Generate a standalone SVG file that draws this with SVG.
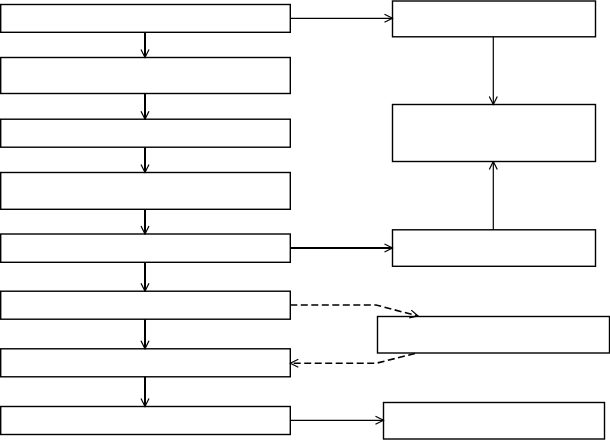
<svg xmlns="http://www.w3.org/2000/svg" width="610" height="440" viewBox="0 0 610 440">
<style>
.box{fill:#fff;stroke:#000;stroke-width:1.4}
.c{fill:none;stroke:#000;stroke-width:1.2}
.t{stroke-width:2}
.d{stroke-width:1.6;stroke-dasharray:7 3.5}
</style>
<defs>
<marker id="a" viewBox="0 0 10 10" refX="9" refY="5" markerWidth="10" markerHeight="10" markerUnits="userSpaceOnUse" orient="auto">
<path d="M1,1 L9,5 L1,9" fill="none" stroke="#000" stroke-width="1.2"/>
</marker>
</defs>
<rect width="610" height="440" fill="#fff"/>
<g id="n1"><rect class="box" x="0.7" y="4.5" width="289.6" height="27.8"/></g>
<g id="n2"><rect class="box" x="0.7" y="57.5" width="289.6" height="36"/></g>
<g id="n3"><rect class="box" x="0.7" y="119.2" width="289.6" height="28"/></g>
<g id="n4"><rect class="box" x="0.7" y="172.5" width="289.6" height="36.8"/></g>
<g id="n5"><rect class="box" x="0.7" y="234" width="289.6" height="28.3"/></g>
<g id="n6"><rect class="box" x="0.7" y="291.2" width="289.6" height="28"/></g>
<g id="n7"><rect class="box" x="0.7" y="348.8" width="289.6" height="28"/></g>
<g id="n8"><rect class="box" x="0.7" y="406.5" width="289.6" height="28"/></g>
<g id="r1"><rect class="box" x="392.5" y="1" width="203" height="35.8"/></g>
<g id="r2"><rect class="box" x="392.5" y="104.5" width="203" height="57"/></g>
<g id="r3"><rect class="box" x="392.5" y="229.8" width="203" height="36.5"/></g>
<g id="r4"><rect class="box" x="377.5" y="316.5" width="232" height="36.5"/></g>
<g id="r5"><rect class="box" x="383.5" y="402.5" width="221" height="36.5"/></g>
<g id="connectors">
<path class="c t" d="M145,32.3 V57.5" marker-end="url(#a)"/>
<path class="c t" d="M145,93.5 V119.2" marker-end="url(#a)"/>
<path class="c t" d="M145,147.2 V172.5" marker-end="url(#a)"/>
<path class="c t" d="M145,209.3 V234" marker-end="url(#a)"/>
<path class="c t" d="M145,262.3 V291.2" marker-end="url(#a)"/>
<path class="c t" d="M145,319.2 V348.8" marker-end="url(#a)"/>
<path class="c t" d="M145,376.8 V406.5" marker-end="url(#a)"/>
<path class="c" d="M290.3,18.3 H392.5" marker-end="url(#a)"/>
<path class="c" d="M493.3,36.8 V104.5" marker-end="url(#a)"/>
<path class="c" d="M493.3,229.8 V161.5" marker-end="url(#a)"/>
<path class="c t" d="M290.3,248 H392.5" marker-end="url(#a)"/>
<path class="c d" d="M290.3,305 H376 L418,316" marker-end="url(#a)"/>
<path class="c d" d="M415,353.5 L376,363.3 H290.3" marker-end="url(#a)"/>
<path class="c" d="M290.3,420.3 H383.5" marker-end="url(#a)"/>
</g>
</svg>
